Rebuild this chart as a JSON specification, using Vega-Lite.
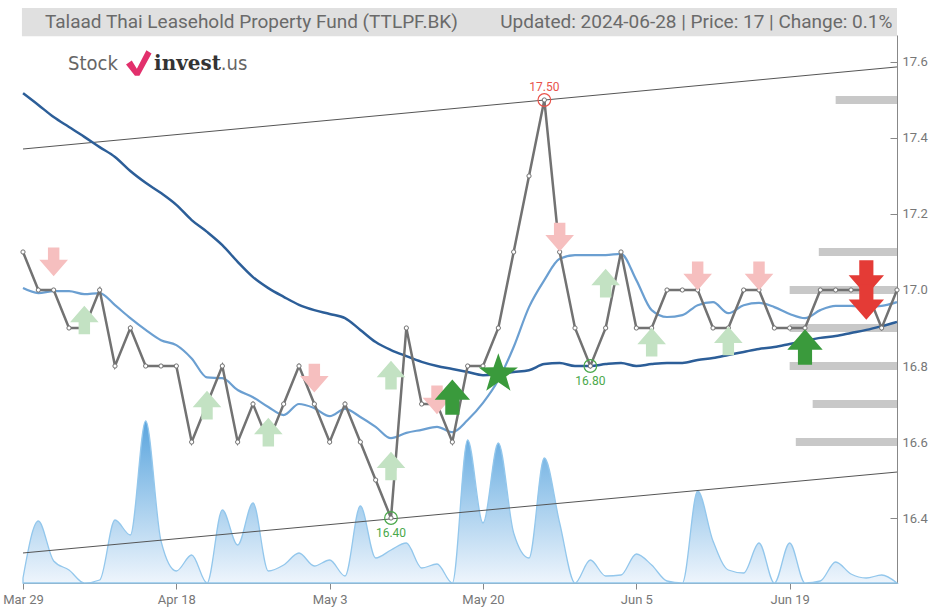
{
  "$schema": "https://vega.github.io/schema/vega-lite/v6.json",
  "width": 874,
  "height": 548,
  "autosize": "none",
  "padding": {"left": 23, "top": 35, "right": 34, "bottom": 25},
  "background": "white",
  "config": {"view": {"stroke": null}, "font": "Roboto"},
  "datasets": {
    "px": [
      {"i":0,"date":"2024-03-29","price":17.1,"ma1":17.005,"ma2":17.518,"vol":5},
      {"i":1,"date":"2024-04-01","price":17.0,"ma1":16.992,"ma2":17.487,"vol":62},
      {"i":2,"date":"2024-04-02","price":17.0,"ma1":16.997,"ma2":17.455,"vol":22},
      {"i":3,"date":"2024-04-03","price":16.9,"ma1":16.997,"ma2":17.429,"vol":13},
      {"i":4,"date":"2024-04-04","price":16.9,"ma1":16.989,"ma2":17.403,"vol":0},
      {"i":5,"date":"2024-04-05","price":17.0,"ma1":16.992,"ma2":17.376,"vol":3},
      {"i":6,"date":"2024-04-09","price":16.8,"ma1":16.96,"ma2":17.35,"vol":63},
      {"i":7,"date":"2024-04-10","price":16.9,"ma1":16.926,"ma2":17.313,"vol":48},
      {"i":8,"date":"2024-04-11","price":16.8,"ma1":16.895,"ma2":17.282,"vol":162},
      {"i":9,"date":"2024-04-17","price":16.8,"ma1":16.868,"ma2":17.255,"vol":42},
      {"i":10,"date":"2024-04-18","price":16.8,"ma1":16.855,"ma2":17.224,"vol":12},
      {"i":11,"date":"2024-04-19","price":16.6,"ma1":16.82,"ma2":17.184,"vol":28},
      {"i":12,"date":"2024-04-22","price":16.7,"ma1":16.77,"ma2":17.153,"vol":0},
      {"i":13,"date":"2024-04-23","price":16.8,"ma1":16.768,"ma2":17.118,"vol":73},
      {"i":14,"date":"2024-04-24","price":16.6,"ma1":16.737,"ma2":17.074,"vol":38},
      {"i":15,"date":"2024-04-25","price":16.7,"ma1":16.718,"ma2":17.034,"vol":80},
      {"i":16,"date":"2024-04-26","price":16.6,"ma1":16.692,"ma2":17.005,"vol":12},
      {"i":17,"date":"2024-04-29","price":16.7,"ma1":16.671,"ma2":16.982,"vol":18},
      {"i":18,"date":"2024-04-30","price":16.8,"ma1":16.7,"ma2":16.961,"vol":30},
      {"i":19,"date":"2024-05-02","price":16.7,"ma1":16.689,"ma2":16.947,"vol":17},
      {"i":20,"date":"2024-05-03","price":16.6,"ma1":16.668,"ma2":16.937,"vol":23},
      {"i":21,"date":"2024-05-07","price":16.7,"ma1":16.687,"ma2":16.926,"vol":7},
      {"i":22,"date":"2024-05-08","price":16.6,"ma1":16.666,"ma2":16.895,"vol":77},
      {"i":23,"date":"2024-05-09","price":16.5,"ma1":16.64,"ma2":16.863,"vol":25},
      {"i":24,"date":"2024-05-10","price":16.4,"ma1":16.61,"ma2":16.842,"vol":33},
      {"i":25,"date":"2024-05-13","price":16.9,"ma1":16.624,"ma2":16.826,"vol":40},
      {"i":26,"date":"2024-05-14","price":16.7,"ma1":16.632,"ma2":16.811,"vol":15},
      {"i":27,"date":"2024-05-15","price":16.7,"ma1":16.64,"ma2":16.8,"vol":19},
      {"i":28,"date":"2024-05-16","price":16.6,"ma1":16.626,"ma2":16.792,"vol":0},
      {"i":29,"date":"2024-05-17","price":16.8,"ma1":16.658,"ma2":16.784,"vol":143},
      {"i":30,"date":"2024-05-20","price":16.8,"ma1":16.703,"ma2":16.776,"vol":60},
      {"i":31,"date":"2024-05-21","price":16.9,"ma1":16.763,"ma2":16.779,"vol":140},
      {"i":32,"date":"2024-05-23","price":17.1,"ma1":16.85,"ma2":16.784,"vol":50},
      {"i":33,"date":"2024-05-24","price":17.3,"ma1":16.955,"ma2":16.789,"vol":25},
      {"i":34,"date":"2024-05-27","price":17.5,"ma1":17.026,"ma2":16.805,"vol":125},
      {"i":35,"date":"2024-05-28","price":17.1,"ma1":17.082,"ma2":16.808,"vol":60},
      {"i":36,"date":"2024-05-29","price":16.9,"ma1":17.092,"ma2":16.8,"vol":0},
      {"i":37,"date":"2024-05-30","price":16.8,"ma1":17.092,"ma2":16.8,"vol":23},
      {"i":38,"date":"2024-05-31","price":16.9,"ma1":17.092,"ma2":16.805,"vol":7},
      {"i":39,"date":"2024-06-04","price":17.1,"ma1":17.095,"ma2":16.808,"vol":8},
      {"i":40,"date":"2024-06-05","price":16.9,"ma1":17.026,"ma2":16.8,"vol":29},
      {"i":41,"date":"2024-06-06","price":16.9,"ma1":16.947,"ma2":16.805,"vol":18},
      {"i":42,"date":"2024-06-07","price":17.0,"ma1":16.929,"ma2":16.808,"vol":2},
      {"i":43,"date":"2024-06-10","price":17.0,"ma1":16.934,"ma2":16.808,"vol":0},
      {"i":44,"date":"2024-06-11","price":17.0,"ma1":16.96,"ma2":16.816,"vol":92},
      {"i":45,"date":"2024-06-12","price":16.9,"ma1":16.968,"ma2":16.821,"vol":42},
      {"i":46,"date":"2024-06-13","price":16.9,"ma1":16.939,"ma2":16.829,"vol":13},
      {"i":47,"date":"2024-06-14","price":17.0,"ma1":16.96,"ma2":16.837,"vol":10},
      {"i":48,"date":"2024-06-17","price":17.0,"ma1":16.966,"ma2":16.845,"vol":40},
      {"i":49,"date":"2024-06-18","price":16.9,"ma1":16.955,"ma2":16.85,"vol":0},
      {"i":50,"date":"2024-06-19","price":16.9,"ma1":16.937,"ma2":16.858,"vol":40},
      {"i":51,"date":"2024-06-20","price":16.9,"ma1":16.926,"ma2":16.866,"vol":0},
      {"i":52,"date":"2024-06-21","price":17.0,"ma1":16.947,"ma2":16.874,"vol":2},
      {"i":53,"date":"2024-06-24","price":17.0,"ma1":16.958,"ma2":16.879,"vol":21},
      {"i":54,"date":"2024-06-25","price":17.0,"ma1":16.958,"ma2":16.887,"vol":9},
      {"i":55,"date":"2024-06-26","price":17.0,"ma1":16.955,"ma2":16.895,"vol":5},
      {"i":56,"date":"2024-06-27","price":16.9,"ma1":16.958,"ma2":16.905,"vol":8},
      {"i":57,"date":"2024-06-28","price":17.0,"ma1":16.968,"ma2":16.916,"vol":0}
    ],
    "sig": [
      {"i":2,"p":17.074,"kind":"dl"},
      {"i":4,"p":16.921,"kind":"ul"},
      {"i":12,"p":16.697,"kind":"ul"},
      {"i":16,"p":16.626,"kind":"ul"},
      {"i":19,"p":16.768,"kind":"dl"},
      {"i":24,"p":16.776,"kind":"ul"},
      {"i":24,"p":16.537,"kind":"ul"},
      {"i":27,"p":16.711,"kind":"dl"},
      {"i":28,"p":16.718,"kind":"u"},
      {"i":31,"p":16.779,"kind":"s"},
      {"i":35,"p":17.139,"kind":"dl"},
      {"i":38,"p":17.018,"kind":"ul"},
      {"i":41,"p":16.863,"kind":"ul"},
      {"i":44,"p":17.037,"kind":"dl"},
      {"i":46,"p":16.866,"kind":"ul"},
      {"i":48,"p":17.037,"kind":"dl"},
      {"i":51,"p":16.85,"kind":"u"},
      {"i":55,"p":17.032,"kind":"d"},
      {"i":55,"p":16.968,"kind":"d"}
    ],
    "lvl": [
      {"s":53.0,"e":57,"p":17.5},
      {"s":51.9,"e":57,"p":17.1},
      {"s":50.0,"e":57,"p":17.0},
      {"s":50.0,"e":57,"p":16.9},
      {"s":50.0,"e":57,"p":16.8},
      {"s":51.5,"e":57,"p":16.7},
      {"s":50.4,"e":57,"p":16.6}
    ],
    "trend": [
      {"a":0,"b":57,"pa":17.371,"pb":17.587},
      {"a":0,"b":57,"pa":16.308,"pb":16.521}
    ],
    "ext": [
      {"i":34,"p":17.5,"t":"17.50","c":"r"},
      {"i":24,"p":16.4,"t":"16.40","c":"g"},
      {"i":37,"p":16.8,"t":"16.80","c":"g"}
    ]
  },
  "layer": [
    {
      "data": {"name": "px"},
      "mark": {
        "type": "area",
        "interpolate": "monotone",
        "stroke": "#93c7ec",
        "strokeWidth": 1.3,
        "fill": {"gradient": "linear", "x1": 1, "y1": 1, "x2": 1, "y2": 0,
          "stops": [{"offset": 0, "color": "#eef5fc"}, {"offset": 1, "color": "#5aa5de"}]},
        "fillOpacity": 1
      },
      "encoding": {
        "x": {"field": "i", "type": "quantitative", "scale": {"domain": [0, 57], "nice": false, "zero": false},
          "axis": {"orient": "bottom", "values": [0, 10, 20, 30, 40, 50], "title": null, "grid": false,
            "labelExpr": "['Mar 29','Apr 18','May 3','May 20','Jun 5','Jun 19'][round(datum.value/10)]",
            "labelFlush": false, "labelOverlap": false,
            "domainColor": "#888", "tickColor": "#888", "tickSize": 6, "labelColor": "#777",
            "labelFontSize": 13, "labelPadding": 4, "labelFont": "Roboto"}},
        "y": {"field": "vol", "type": "quantitative", "scale": {"domain": [0, 548], "nice": false}, "axis": null}
      }
    },
    {
      "data": {"values": [{"a": -0.07, "b": 57, "p1": 17.668, "p2": 17.742}]},
      "mark": {"type": "rect", "color": "#e0e0e0"},
      "encoding": {
        "x": {"field": "a", "type": "quantitative"},
        "x2": {"field": "b"},
        "y": {"field": "p1", "type": "quantitative",
          "scale": {"domain": [16.229, 17.671], "nice": false, "zero": false},
          "axis": {"orient": "right", "values": [16.4, 16.6, 16.8, 17.0, 17.2, 17.4, 17.6], "format": ".1f",
            "title": null, "grid": false, "domainColor": "#888", "tickColor": "#888", "tickSize": -7,
            "labelPadding": 12, "labelColor": "#777", "labelFontSize": 13, "labelFont": "Roboto"}},
        "y2": {"field": "p2"}
      }
    },
    {
      "data": {"values": [{"i": 1.43, "p": 17.705, "t": "Talaad Thai Leasehold Property Fund (TTLPF.BK)"}]},
      "mark": {"type": "text", "align": "left", "baseline": "middle", "fontSize": 19, "color": "#6a6a6a", "font": "Roboto"},
      "encoding": {"x": {"field": "i", "type": "quantitative"}, "y": {"field": "p", "type": "quantitative", "scale": {"domain": [16.229, 17.671], "nice": false, "zero": false}, "axis": null}, "text": {"field": "t"}}
    },
    {
      "data": {"values": [{"i": 56.7, "p": 17.705, "t": "Updated: 2024-06-28 | Price: 17 | Change: 0.1%"}]},
      "mark": {"type": "text", "align": "right", "baseline": "middle", "fontSize": 19, "color": "#6a6a6a", "font": "Roboto"},
      "encoding": {"x": {"field": "i", "type": "quantitative"}, "y": {"field": "p", "type": "quantitative", "scale": {"domain": [16.229, 17.671], "nice": false, "zero": false}, "axis": null}, "text": {"field": "t"}}
    },
    {
      "data": {"values": [{"i": 2.94, "p": 17.595, "t": "Stock"}]},
      "mark": {"type": "text", "align": "left", "baseline": "middle", "fontSize": 20, "color": "#666", "font": "DejaVu Sans Condensed"},
      "encoding": {"x": {"field": "i", "type": "quantitative"}, "y": {"field": "p", "type": "quantitative", "scale": {"domain": [16.229, 17.671], "nice": false, "zero": false}, "axis": null}, "text": {"field": "t"}}
    },
    {
      "data": {"values": [{"i": 7.55, "p": 17.597}]},
      "mark": {"type": "point", "filled": true, "size": 650, "color": "#e2306c", "opacity": 1, "strokeWidth": 0,
        "shape": "M-1,0.1L-0.55,-0.2L-0.15,0.45L0.6,-1L1,-0.75L0.05,1L-0.3,1Z"},
      "encoding": {"x": {"field": "i", "type": "quantitative"}, "y": {"field": "p", "type": "quantitative", "scale": {"domain": [16.229, 17.671], "nice": false, "zero": false}, "axis": null}}
    },
    {
      "data": {"values": [{"i": 8.55, "p": 17.595, "t": "invest"}]},
      "mark": {"type": "text", "align": "left", "baseline": "middle", "fontSize": 20, "fontWeight": "bold", "color": "#333", "font": "DejaVu Serif"},
      "encoding": {"x": {"field": "i", "type": "quantitative"}, "y": {"field": "p", "type": "quantitative", "scale": {"domain": [16.229, 17.671], "nice": false, "zero": false}, "axis": null}, "text": {"field": "t"}}
    },
    {
      "data": {"values": [{"i": 12.9, "p": 17.595, "t": ".us"}]},
      "mark": {"type": "text", "align": "left", "baseline": "middle", "fontSize": 20, "color": "#666", "font": "DejaVu Sans Condensed"},
      "encoding": {"x": {"field": "i", "type": "quantitative"}, "y": {"field": "p", "type": "quantitative", "scale": {"domain": [16.229, 17.671], "nice": false, "zero": false}, "axis": null}, "text": {"field": "t"}}
    },
    {
      "data": {"name": "trend"},
      "mark": {"type": "rule", "color": "#555", "strokeWidth": 1},
      "encoding": {"x": {"field": "a", "type": "quantitative"}, "x2": {"field": "b"}, "y": {"field": "pa", "type": "quantitative", "scale": {"domain": [16.229, 17.671], "nice": false, "zero": false}, "axis": null}, "y2": {"field": "pb"}}
    },
    {
      "data": {"name": "lvl"},
      "mark": {"type": "rule", "color": "#c8c8c8", "strokeWidth": 8},
      "encoding": {"x": {"field": "s", "type": "quantitative"}, "x2": {"field": "e"}, "y": {"field": "p", "type": "quantitative", "scale": {"domain": [16.229, 17.671], "nice": false, "zero": false}, "axis": null}}
    },
    {
      "data": {"name": "px"},
      "mark": {"type": "line", "color": "#2c5e98", "strokeWidth": 2.5, "interpolate": "monotone"},
      "encoding": {"x": {"field": "i", "type": "quantitative"}, "y": {"field": "ma2", "type": "quantitative", "scale": {"domain": [16.229, 17.671], "nice": false, "zero": false}, "axis": null}}
    },
    {
      "data": {"name": "px"},
      "mark": {"type": "line", "color": "#6b9fd1", "strokeWidth": 2.2, "interpolate": "monotone"},
      "encoding": {"x": {"field": "i", "type": "quantitative"}, "y": {"field": "ma1", "type": "quantitative", "scale": {"domain": [16.229, 17.671], "nice": false, "zero": false}, "axis": null}}
    },
    {
      "data": {"name": "px"},
      "mark": {"type": "line", "color": "#727272", "strokeWidth": 2.5,
        "point": {"filled": true, "fill": "white", "stroke": "#727272", "strokeWidth": 1, "size": 18}},
      "encoding": {"x": {"field": "i", "type": "quantitative"}, "y": {"field": "price", "type": "quantitative", "scale": {"domain": [16.229, 17.671], "nice": false, "zero": false}, "axis": null}}
    },
    {
      "data": {"name": "sig"},
      "transform": [{"filter": "datum.kind == 'dl'"}],
      "mark": {"type": "point", "filled": true, "opacity": 1, "strokeWidth": 0, "color": "#f6bfbf", "size": 820,
        "shape": "M-0.4,-1L0.4,-1L0.4,-0.15L1,-0.15L0,1L-1,-0.15L-0.4,-0.15Z"},
      "encoding": {"x": {"field": "i", "type": "quantitative"}, "y": {"field": "p", "type": "quantitative", "scale": {"domain": [16.229, 17.671], "nice": false, "zero": false}, "axis": null}}
    },
    {
      "data": {"name": "sig"},
      "transform": [{"filter": "datum.kind == 'ul'"}],
      "mark": {"type": "point", "filled": true, "opacity": 1, "strokeWidth": 0, "color": "#c3e2c3", "size": 820,
        "shape": "M-0.4,1L0.4,1L0.4,0.15L1,0.15L0,-1L-1,0.15L-0.4,0.15Z"},
      "encoding": {"x": {"field": "i", "type": "quantitative"}, "y": {"field": "p", "type": "quantitative", "scale": {"domain": [16.229, 17.671], "nice": false, "zero": false}, "axis": null}}
    },
    {
      "data": {"name": "sig"},
      "transform": [{"filter": "datum.kind == 'u'"}],
      "mark": {"type": "point", "filled": true, "opacity": 1, "strokeWidth": 0, "color": "#3a9a3c", "size": 1250,
        "shape": "M-0.4,1L0.4,1L0.4,0.15L1,0.15L0,-1L-1,0.15L-0.4,0.15Z"},
      "encoding": {"x": {"field": "i", "type": "quantitative"}, "y": {"field": "p", "type": "quantitative", "scale": {"domain": [16.229, 17.671], "nice": false, "zero": false}, "axis": null}}
    },
    {
      "data": {"name": "sig"},
      "transform": [{"filter": "datum.kind == 'd'"}],
      "mark": {"type": "point", "filled": true, "opacity": 1, "strokeWidth": 0, "color": "#e43b36", "size": 1250,
        "shape": "M-0.4,-1L0.4,-1L0.4,-0.15L1,-0.15L0,1L-1,-0.15L-0.4,-0.15Z"},
      "encoding": {"x": {"field": "i", "type": "quantitative"}, "y": {"field": "p", "type": "quantitative", "scale": {"domain": [16.229, 17.671], "nice": false, "zero": false}, "axis": null}}
    },
    {
      "data": {"name": "sig"},
      "transform": [{"filter": "datum.kind == 's'"}],
      "mark": {"type": "point", "filled": true, "opacity": 1, "strokeWidth": 0, "color": "#3a9a3c", "size": 1700,
        "shape": "M0,-1L0.235,-0.324L0.951,-0.309L0.38,0.124L0.588,0.809L0,0.4L-0.588,0.809L-0.38,0.124L-0.951,-0.309L-0.235,-0.324Z"},
      "encoding": {"x": {"field": "i", "type": "quantitative"}, "y": {"field": "p", "type": "quantitative", "scale": {"domain": [16.229, 17.671], "nice": false, "zero": false}, "axis": null}}
    },
    {
      "data": {"name": "ext"},
      "transform": [{"filter": "datum.c == 'r'"}],
      "mark": {"type": "point", "shape": "circle", "filled": false, "size": 160, "strokeWidth": 1.2, "opacity": 1, "color": "#e8534b"},
      "encoding": {"x": {"field": "i", "type": "quantitative"}, "y": {"field": "p", "type": "quantitative", "scale": {"domain": [16.229, 17.671], "nice": false, "zero": false}, "axis": null}}
    },
    {
      "data": {"name": "ext"},
      "transform": [{"filter": "datum.c == 'g'"}],
      "mark": {"type": "point", "shape": "circle", "filled": false, "size": 160, "strokeWidth": 1.2, "opacity": 1, "color": "#4aa84a"},
      "encoding": {"x": {"field": "i", "type": "quantitative"}, "y": {"field": "p", "type": "quantitative", "scale": {"domain": [16.229, 17.671], "nice": false, "zero": false}, "axis": null}}
    },
    {
      "data": {"name": "ext"},
      "transform": [{"filter": "datum.c == 'r'"}],
      "mark": {"type": "text", "dy": -13, "fontSize": 12, "color": "#e8534b", "font": "Roboto"},
      "encoding": {"x": {"field": "i", "type": "quantitative"}, "y": {"field": "p", "type": "quantitative", "scale": {"domain": [16.229, 17.671], "nice": false, "zero": false}, "axis": null}, "text": {"field": "t"}}
    },
    {
      "data": {"name": "ext"},
      "transform": [{"filter": "datum.c == 'g'"}],
      "mark": {"type": "text", "dy": 15, "fontSize": 12, "color": "#4aa84a", "font": "Roboto"},
      "encoding": {"x": {"field": "i", "type": "quantitative"}, "y": {"field": "p", "type": "quantitative", "scale": {"domain": [16.229, 17.671], "nice": false, "zero": false}, "axis": null}, "text": {"field": "t"}}
    }
  ],
  "resolve": {"scale": {"y": "independent"}}
}
